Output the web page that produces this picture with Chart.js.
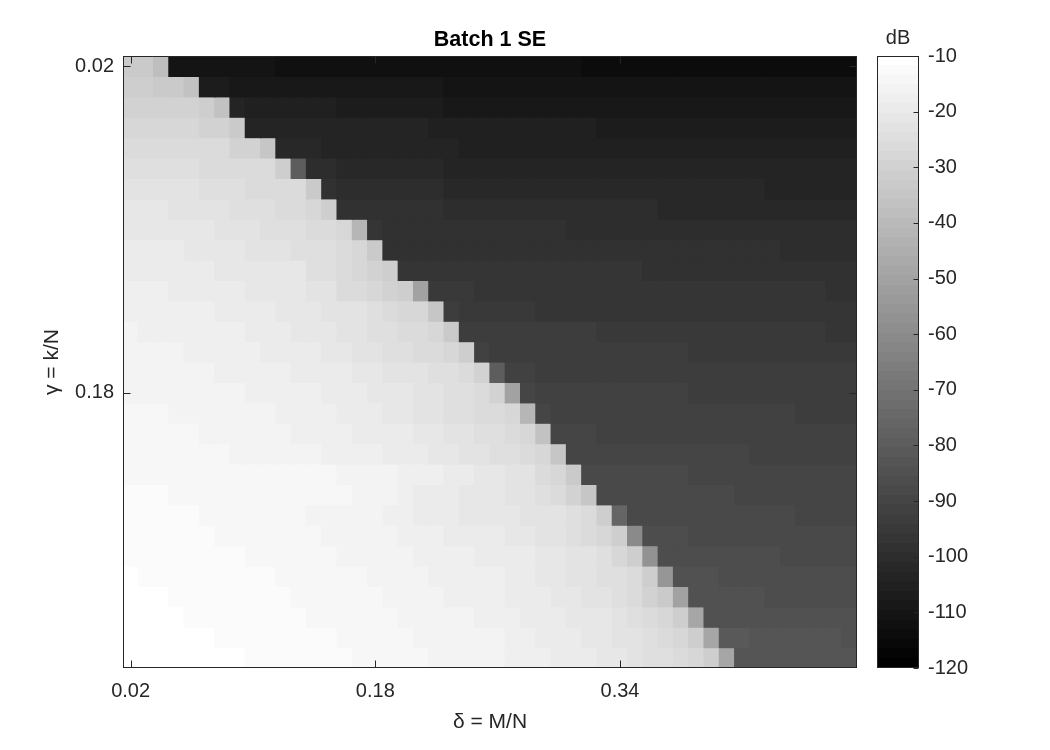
<!DOCTYPE html>
<html>
<head>
<meta charset="utf-8">
<title>Batch 1 SE</title>
<script src="https://cdn.jsdelivr.net/npm/chart.js@4.4.0/dist/chart.umd.min.js"></script>
<style>
  html, body { margin: 0; padding: 0; background: #fff; }
  #quadro { position: relative; width: 1050px; height: 750px; }
  #quadro canvas { position: absolute; top: 0; }
  #graficoSE { left: 0; }
  #graficoBarra { left: 860px; }
</style>
</head>
<body>
<div id="quadro">
  <canvas id="graficoSE" width="1050" height="750"></canvas>
  <canvas id="graficoBarra" width="190" height="750"></canvas>
</div>
<script>
// delta = M/N (columns) and gamma = k/N (rows)
const delta = [0.02, 0.03, 0.04, 0.05, 0.06, 0.07, 0.08, 0.09, 0.10, 0.11, 0.12, 0.13,
  0.14, 0.15, 0.16, 0.17, 0.18, 0.19, 0.20, 0.21, 0.22, 0.23, 0.24, 0.25,
  0.26, 0.27, 0.28, 0.29, 0.30, 0.31, 0.32, 0.33, 0.34, 0.35, 0.36, 0.37,
  0.38, 0.39, 0.40, 0.41, 0.42, 0.43, 0.44, 0.45, 0.46, 0.47, 0.48, 0.49]
const gamma = [0.02, 0.03, 0.04, 0.05, 0.06, 0.07, 0.08, 0.09, 0.10, 0.11,
  0.12, 0.13, 0.14, 0.15, 0.16, 0.17, 0.18, 0.19, 0.20, 0.21,
  0.22, 0.23, 0.24, 0.25, 0.26, 0.27, 0.28, 0.29, 0.30, 0.31]

const xTicks = [0.02, 0.18, 0.34]
const yTicks = [0.02, 0.18]

// SE in dB, one array per gamma row
const g02 = [-34, -34, -39, -111, -111, -111, -111, -111, -111, -111, -113, -113,
  -113, -113, -113, -113, -113, -113, -113, -113, -113, -113, -113, -113,
  -113, -113, -113, -113, -113, -113, -114, -114, -114, -114, -114, -114,
  -114, -114, -114, -114, -114, -114, -114, -114, -114, -114, -114, -114]
const g03 = [-32, -32, -33, -33, -37, -107, -107, -108, -108, -108, -108, -108,
  -108, -108, -108, -108, -109, -109, -109, -109, -109, -111, -111, -111,
  -111, -111, -111, -111, -111, -111, -111, -111, -111, -111, -111, -111,
  -111, -111, -111, -111, -111, -111, -111, -111, -111, -111, -111, -111]
const g04 = [-29, -29, -29, -29, -29, -32, -37, -104, -106, -106, -106, -106,
  -106, -106, -107, -107, -107, -107, -107, -107, -107, -108, -108, -108,
  -108, -108, -108, -108, -108, -108, -108, -108, -108, -108, -108, -108,
  -108, -108, -108, -108, -108, -108, -108, -108, -108, -109, -109, -109]
const g05 = [-28, -28, -28, -28, -28, -29, -29, -34, -103, -103, -103, -104,
  -104, -104, -104, -104, -104, -104, -104, -104, -106, -106, -106, -106,
  -106, -106, -106, -106, -106, -106, -106, -107, -107, -107, -107, -107,
  -107, -107, -107, -107, -107, -107, -107, -107, -107, -107, -107, -107]
const g06 = [-26, -26, -26, -26, -26, -27, -27, -29, -29, -35, -102, -102,
  -102, -103, -103, -103, -103, -103, -103, -103, -103, -104, -105, -105,
  -105, -105, -105, -105, -105, -105, -105, -105, -105, -105, -105, -105,
  -105, -105, -105, -105, -105, -105, -105, -105, -105, -105, -105, -105]
const g07 = [-24, -24, -25, -25, -25, -26, -26, -26, -27, -27, -32, -79,
  -100, -100, -102, -102, -102, -102, -102, -102, -102, -104, -104, -104,
  -104, -104, -104, -104, -104, -104, -104, -104, -104, -104, -104, -104,
  -104, -104, -104, -104, -104, -104, -104, -104, -104, -104, -104, -104]
const g08 = [-23, -23, -23, -23, -23, -24, -24, -24, -26, -26, -27, -27,
  -34, -99, -100, -100, -100, -100, -100, -100, -100, -102, -102, -102,
  -102, -102, -102, -102, -102, -102, -102, -102, -102, -102, -102, -102,
  -102, -102, -102, -102, -102, -102, -103, -103, -103, -103, -103, -103]
const g09 = [-21.5, -21.5, -21.5, -22.5, -22.5, -22.5, -22.5, -24, -24, -24, -26, -26,
  -28, -32, -98, -99, -99, -99, -99, -99, -99, -100.5, -100.5, -100.5,
  -100.5, -100.5, -100.5, -100.5, -100.5, -100.5, -100.5, -100.5, -100.5, -100.5, -100.5, -102,
  -102, -102, -102, -102, -102, -102, -102, -102, -102, -102, -102, -102]
const g10 = [-21, -21, -21, -21, -21, -21, -22.5, -22.5, -22.5, -24, -24, -24,
  -26, -26, -28.5, -41, -97, -98, -98, -98, -98, -99, -99, -99,
  -99, -99, -99, -99, -99, -100, -100, -100, -100, -100, -100, -100,
  -100, -100, -100, -100, -100, -100, -100, -100, -100, -100, -100, -100]
const g11 = [-20, -20, -20, -20, -21, -21, -21, -21, -22.5, -22.5, -22.5, -24,
  -24, -24, -26, -28.5, -34, -98, -98, -98, -98.5, -98.5, -98.5, -98.5,
  -98.5, -98.5, -98.5, -99, -99, -99, -99, -99, -99, -99, -99, -99,
  -99, -99, -99, -99, -99, -99, -99, -99.5, -99.5, -99.5, -99.5, -99.5]
const g12 = [-19, -19, -19, -19, -19, -19, -21, -21, -21, -21, -22, -22,
  -24, -24, -26, -28, -29, -32, -96, -97, -97, -97, -97, -97,
  -97.5, -97.5, -97.5, -97.5, -97.5, -97.5, -97.5, -97.5, -97.5, -97.5, -98.5, -98.5,
  -98.5, -98.5, -98.5, -98.5, -98.5, -98.5, -98.5, -98.5, -98.5, -98.5, -98.5, -98.5]
const g13 = [-17, -17, -17, -19, -19, -19, -19, -19, -21, -21, -21.5, -21.5,
  -23, -23, -26, -26, -28, -29, -32, -51, -95, -95, -95, -96,
  -96, -96, -96, -96, -96, -96, -97, -97, -97, -97, -97, -97,
  -97, -97, -97, -97, -97, -97, -97, -97, -97, -97, -98, -98]
const g14 = [-17, -17, -17, -17, -17, -17, -19, -19, -19, -19, -21, -21,
  -21, -22.5, -22.5, -22.5, -24, -26, -28, -28.5, -35, -94, -95, -95,
  -95, -95, -95, -96, -96, -96, -96, -96, -96, -96, -96, -96,
  -96, -97, -97, -97, -97, -97, -97, -97, -97, -97, -97, -97]
const g15 = [-15.5, -17, -17, -17, -17, -17, -17, -17, -19, -19, -19, -21,
  -21, -21.5, -23, -23, -24, -24, -26, -27, -28, -34, -93, -93,
  -93, -94, -94, -94, -94, -94, -94, -95, -95, -95, -95, -95,
  -95, -95, -95, -95, -95, -95, -95, -95, -95, -95, -96, -96]
const g16 = [-15.5, -15.5, -15.5, -15.5, -17, -17, -17, -17, -17, -19, -19, -19,
  -19, -21, -21, -22.5, -22.5, -24, -24, -26, -26, -28, -32, -92,
  -93, -93, -93, -94, -94, -94, -94, -94, -94, -94, -94, -94,
  -94, -95, -95, -95, -95, -95, -95, -95, -95, -95, -95, -95]
const g17 = [-15.5, -15.5, -15.5, -15.5, -15.5, -15.5, -17, -17, -17, -17, -17, -19,
  -19, -19, -19, -21, -21, -23, -23, -23, -25, -25, -27, -29,
  -79, -91.5, -91.5, -93, -93, -93, -93, -93, -93, -93, -93, -93,
  -93, -93, -93, -93, -93, -93, -93, -93, -94, -94, -94, -94]
const g18 = [-15.5, -15.5, -15.5, -15.5, -15.5, -15.5, -15.5, -15.5, -17, -17, -17, -17,
  -17, -19, -19, -19, -21, -21, -21, -22.5, -22.5, -24, -24, -27,
  -30, -51, -90.5, -91, -91, -92, -92, -92, -92, -92, -92, -92,
  -92, -93, -93, -93, -93, -93, -93, -93, -93, -93, -93, -93]
const g19 = [-14, -14, -14, -15.5, -15.5, -15.5, -15.5, -15.5, -15.5, -15.5, -17, -17,
  -17, -17, -19, -19, -19, -21, -21, -22.5, -22.5, -24, -24, -26,
  -26, -28.5, -42, -90, -91.5, -91.5, -91.5, -91.5, -91.5, -92, -92, -92,
  -92, -92, -92, -92, -92, -92, -92, -92, -93, -93, -93, -93]
const g20 = [-14, -14, -14, -14, -14, -15.5, -15.5, -15.5, -15.5, -15.5, -15.5, -17,
  -17, -17, -17, -19, -19, -19, -19, -21, -21, -22.5, -22.5, -24,
  -24, -26, -28.5, -37, -90, -90.5, -90.5, -91, -91, -91, -91, -91,
  -91, -92, -92, -92, -92, -92, -92, -92, -92, -92, -92, -92]
const g21 = [-14, -14, -14, -14, -14, -14, -14, -15.5, -15.5, -15.5, -15.5, -15.5,
  -15.5, -17, -17, -17, -17, -19, -19, -19, -21, -21, -22.5, -22.5,
  -24, -24, -26, -28.5, -35, -89.5, -89.5, -89.5, -89.5, -89.5, -90.5, -90.5,
  -90.5, -90.5, -90.5, -90.5, -90.5, -91, -91, -91, -91, -91, -91, -91]
const g22 = [-14, -14, -14, -14, -14, -14, -14, -14, -14, -15, -15, -15,
  -15, -15, -16.5, -16.5, -16.5, -16.5, -18, -18, -18, -20, -20, -21.5,
  -21.5, -23, -23, -26, -28.5, -34, -88, -88, -89, -89, -89, -89,
  -89, -90, -90, -90, -90, -90, -90, -90, -90, -90, -90.5, -90.5]
const g23 = [-12, -12, -12, -14, -14, -14, -14, -14, -14, -14, -15, -15,
  -15, -15, -15, -16.5, -16.5, -16.5, -18, -20, -20, -20, -21, -21,
  -21, -23, -23, -24, -27, -30, -35, -87.5, -87.5, -87.5, -89, -89,
  -89, -89, -89, -89, -89.5, -89.5, -89.5, -89.5, -89.5, -89.5, -89.5, -89.5]
const g24 = [-13, -13, -13, -13, -13, -14, -14, -14, -14, -14, -14, -14,
  -15.5, -15.5, -15.5, -15.5, -15.5, -17, -17, -19, -19, -19, -21, -21,
  -21, -21, -22.5, -23, -23, -25, -27, -32, -77, -88, -88, -88,
  -88, -89, -89, -89, -89, -89, -89, -89, -89.5, -89.5, -89.5, -89.5]
const g25 = [-13, -13, -13, -13, -13, -13, -14.5, -14.5, -14.5, -14.5, -14.5, -14.5,
  -14.5, -15.5, -15.5, -15.5, -15.5, -15.5, -17, -17, -17, -19, -19, -19,
  -20, -21, -21, -22.5, -22.5, -24, -26, -28.5, -32, -61, -87, -87,
  -87, -88, -88, -88, -88.5, -88.5, -88.5, -88.5, -88.5, -88.5, -88.5, -88.5]
const g26 = [-13, -13, -13, -13, -13, -13, -13, -13, -14, -14, -14, -14,
  -14, -14, -16, -16, -16, -16, -16, -17, -17, -17, -17, -19,
  -19, -20, -20, -21.5, -21.5, -23, -23, -25, -28, -32, -58, -86,
  -86, -87, -87, -87, -87, -87, -87, -88, -88, -88, -88, -88]
const g27 = [-10.5, -13, -13, -13, -13, -13, -13, -13, -13, -13, -14.5, -14.5,
  -14.5, -14.5, -14.5, -14.5, -15.5, -15.5, -15.5, -15.5, -17, -17, -17, -18,
  -18, -19, -19, -21, -21, -22.5, -22.5, -24, -24, -27, -32, -56,
  -85.5, -85.5, -85.5, -86, -86, -86, -86, -86, -86, -86, -87, -87]
const g28 = [-10.5, -10.5, -10.5, -12.5, -12.5, -12.5, -12.5, -12.5, -12.5, -12.5, -12.5, -14,
  -14, -14, -14, -14, -14, -15.5, -15.5, -15.5, -15.5, -17, -17, -17,
  -18, -19, -19, -19, -21, -21, -22.5, -22.5, -24, -26, -29, -33,
  -51, -84.5, -84.5, -84.5, -84.5, -84.5, -86, -86, -86, -86, -86, -86]
const g29 = [-10, -10, -10, -10, -12.5, -12.5, -12.5, -12.5, -12.5, -12.5, -12.5, -12.5,
  -14, -14, -14, -14, -14, -14, -15.5, -15.5, -15.5, -15.5, -15.5, -17,
  -17, -17, -19, -19, -19, -21, -21, -21, -22.5, -24, -26, -28,
  -31, -49, -84, -84.5, -84.5, -84.5, -84.5, -84.5, -85, -85, -85, -85]
const g30 = [-10, -10, -10, -10, -10, -10, -12, -12, -12, -12, -12, -12,
  -12, -12, -14, -14, -14, -14, -14, -15.5, -15.5, -15.5, -15.5, -15.5,
  -16.5, -17, -17, -19, -19, -19, -21, -21, -22.5, -22.5, -24, -26,
  -28, -32, -49, -82, -82, -83.5, -83.5, -83.5, -83.5, -83.5, -83.5, -84.5]
const g31 = [-10, -10, -10, -10, -10, -10, -10, -10, -12.5, -12.5, -12.5, -12.5,
  -12.5, -12.5, -12.5, -14, -14, -14, -14, -14, -15.5, -15.5, -15.5, -15.5,
  -15.5, -17, -17, -17, -19, -19, -19, -21, -21, -22.5, -24, -25,
  -26, -28.5, -32, -48, -82.5, -82.5, -82.5, -82.5, -83, -83, -83, -83]

const linhas = [g02, g03, g04, g05, g06, g07, g08, g09, g10, g11,
  g12, g13, g14, g15, g16, g17, g18, g19, g20, g21,
  g22, g23, g24, g25, g26, g27, g28, g29, g30, g31]

const cmin = -120
const cmax = -10

Chart.defaults.font.family = '"Liberation Sans", Arial, Helvetica, sans-serif'
Chart.defaults.color = '#262626'

// gray colormap, 64 levels
function cinza(v) {
    let n = Math.floor((v - cmin) / (cmax - cmin) * 64)
    n = Math.max(0, Math.min(63, n))
    let g = Math.round(n * 255 / 63)
    return 'rgb(' + g + ',' + g + ',' + g + ')'
}

const meiaCelula = (gamma[1] - gamma[0]) / 2

const datasetsSE = linhas.map((linha, i) => ({
    label: 'k/N ' + gamma[i],
    data: delta.map(d => ({ x: d, y: [gamma[i] - meiaCelula, gamma[i] + meiaCelula] })),
    backgroundColor: linha.map(cinza),
    borderWidth: 0,
    grouped: false,
    barPercentage: 1,
    categoryPercentage: 1,
    inflateAmount: 0.6
}))

// box and inward ticks like the original figure
const moldura = {
    id: 'moldura',
    afterDatasetsDraw(chart) {
        const { ctx, chartArea: a, scales } = chart
        const l = Math.round(a.left) + 0.5
        const r = Math.round(a.right) - 0.5
        const t = Math.round(a.top) + 0.5
        const b = Math.round(a.bottom) - 0.5
        ctx.save()
        ctx.strokeStyle = '#262626'
        ctx.lineWidth = 1
        ctx.strokeRect(l, t, r - l, b - t)
        ctx.beginPath()
        xTicks.forEach(v => {
            let px = Math.round(scales.x.getPixelForValue(v)) + 0.5
            ctx.moveTo(px, b); ctx.lineTo(px, b - 7)
            ctx.moveTo(px, t); ctx.lineTo(px, t + 7)
        })
        yTicks.forEach(v => {
            let py = Math.round(scales.y.getPixelForValue(v)) + 0.5
            ctx.moveTo(l, py); ctx.lineTo(l + 7, py)
            ctx.moveTo(r, py); ctx.lineTo(r - 7, py)
        })
        ctx.stroke()
        ctx.restore()
    }
}

const graficoSE = new Chart(document.getElementById('graficoSE'), {
    type: 'bar',
    data: { datasets: datasetsSE },
    options: {
        responsive: false,
        animation: false,
        events: [],
        layout: { padding: { top: 27, left: 0, right: 193, bottom: 0 } },
        plugins: {
            legend: { display: false },
            tooltip: { enabled: false },
            title: {
                display: true,
                text: 'Batch 1 SE',
                color: '#000',
                fullSize: false,
                font: { size: 21.5, weight: 'bold' },
                padding: { top: 0, bottom: 3.2 }
            }
        },
        scales: {
            x: {
                type: 'linear',
                min: 0.015,
                max: 0.495,
                offset: false,
                grid: { display: false, drawTicks: false },
                border: { display: false },
                afterBuildTicks: s => { s.ticks = xTicks.map(v => ({ value: v })) },
                afterFit: s => { s.height = 82 },
                ticks: { font: { size: 20 }, padding: 11, maxRotation: 0, autoSkip: false, callback: v => v.toFixed(2) },
                title: { display: true, text: 'δ = M/N', font: { size: 21 }, padding: { top: 0, bottom: 15 } }
            },
            y: {
                type: 'linear',
                reverse: true,
                min: 0.015,
                max: 0.315,
                grid: { display: false, drawTicks: false },
                border: { display: false },
                afterBuildTicks: s => { s.ticks = yTicks.map(v => ({ value: v })) },
                afterFit: s => { s.width = 123 },
                ticks: { font: { size: 20 }, padding: 9, autoSkip: false, callback: v => v.toFixed(2) },
                title: { display: true, text: 'γ = k/N', font: { size: 21 }, padding: { top: 40, bottom: 0 } }
            }
        }
    },
    plugins: [moldura]
})

// colorbar
const niveis = []
for (let n = 0; n < 64; n++) {
    let g = Math.round(n * 255 / 63)
    niveis.push({
        lo: cmin + n * (cmax - cmin) / 64,
        hi: cmin + (n + 1) * (cmax - cmin) / 64,
        cor: 'rgb(' + g + ',' + g + ',' + g + ')'
    })
}

const molduraBarra = {
    id: 'molduraBarra',
    afterDatasetsDraw(chart) {
        const { ctx, chartArea: a, scales } = chart
        const l = Math.round(a.left) + 0.5
        const r = Math.round(a.right) - 0.5
        const t = Math.round(a.top) + 0.5
        const b = Math.round(a.bottom) - 0.5
        ctx.save()
        ctx.strokeStyle = '#262626'
        ctx.lineWidth = 1
        ctx.strokeRect(l, t, r - l, b - t)
        ctx.beginPath()
        scales.y.ticks.forEach(tk => {
            let py = Math.round(scales.y.getPixelForValue(tk.value)) + 0.5
            ctx.moveTo(r, py); ctx.lineTo(r - 5, py)
        })
        ctx.stroke()
        ctx.fillStyle = '#262626'
        ctx.font = '20px "Liberation Sans", Arial, sans-serif'
        ctx.textAlign = 'center'
        ctx.textBaseline = 'alphabetic'
        ctx.fillText('dB', (a.left + a.right) / 2, a.top - 12)
        ctx.restore()
    }
}

const graficoBarra = new Chart(document.getElementById('graficoBarra'), {
    type: 'bar',
    data: {
        labels: [''],
        datasets: niveis.map(nv => ({
            data: [[nv.lo, nv.hi]],
            backgroundColor: nv.cor,
            borderWidth: 0,
            grouped: false,
            barPercentage: 1,
            categoryPercentage: 1,
            inflateAmount: 0.6
        }))
    },
    options: {
        responsive: false,
        animation: false,
        events: [],
        layout: { padding: { left: 17, top: 56, bottom: 82, right: 0 } },
        plugins: { legend: { display: false }, tooltip: { enabled: false } },
        scales: {
            x: { display: false },
            y: {
                position: 'right',
                min: cmin,
                max: cmax,
                grid: { display: false, drawTicks: false },
                border: { display: false },
                afterFit: s => { s.width = 131 },
                ticks: { stepSize: 10, font: { size: 20 }, padding: 9 }
            }
        }
    },
    plugins: [molduraBarra]
})
</script>
</body>
</html>
